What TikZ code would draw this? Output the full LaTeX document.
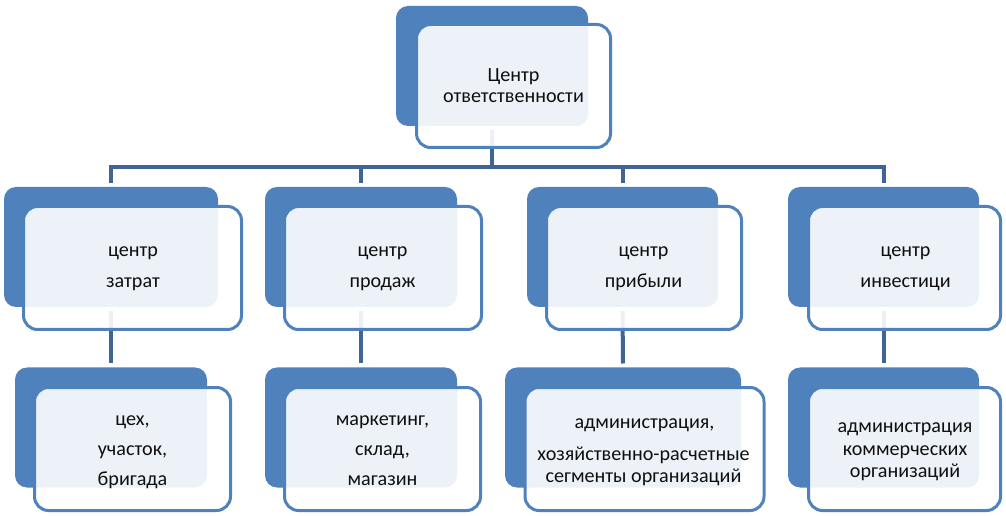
\documentclass[tikz,border=0pt]{standalone}
\usepackage{fontspec}
\setmainfont{Carlito}
\definecolor{accent}{RGB}{79,129,189}
\definecolor{connc}{RGB}{62,101,150}
\definecolor{txt}{RGB}{15,15,15}
\begin{document}
\begin{tikzpicture}[x=0.75pt,y=-0.75pt,
  darkbox/.style={rectangle,rounded corners=9pt,fill=accent,draw=none,inner sep=0pt,outer sep=0pt},
  frontbox/.style={rectangle,rounded corners=10.5pt,fill=white,fill opacity=0.9,draw=accent,line width=2.25pt,inner sep=0pt,outer sep=0pt},
  conn/.style={draw=connc,line width=3pt},
  lbl/.style={anchor=base,inner sep=0pt,text=txt,font=\fontsize{15.1pt}{17pt}\selectfont}]
\useasboundingbox (0,0) rectangle (1006,516);
% dark back boxes
\node[darkbox,minimum width=144pt,minimum height=90pt] (topD) at (492,66) {};
\node[darkbox,minimum width=160.5pt,minimum height=90pt] (aD) at (111,247) {};
\node[darkbox,minimum width=144pt,minimum height=90pt] (bD) at (361,247) {};
\node[darkbox,minimum width=143.25pt,minimum height=90pt] (cD) at (622.5,247) {};
\node[darkbox,minimum width=143.25pt,minimum height=90pt] (dD) at (883.5,247) {};
\node[darkbox,minimum width=144pt,minimum height=90pt] (a2D) at (111,427.5) {};
\node[darkbox,minimum width=144pt,minimum height=90pt] (b2D) at (361,427.5) {};
\node[darkbox,minimum width=177pt,minimum height=90pt] (c2D) at (623,427.5) {};
\node[darkbox,minimum width=143.25pt,minimum height=90pt] (d2D) at (883.5,427.5) {};
% connectors
\coordinate (bus) at (0,167);
\draw[conn] ([yshift=-3pt]topD.south) -- (topD.south |- bus);
\draw[conn] ([yshift=3pt]aD.north) -- (aD.north |- bus) -- (dD.north |- bus) -- ([yshift=3pt]dD.north);
\draw[conn] ([yshift=3pt]bD.north) -- (bD.north |- bus);
\draw[conn] ([yshift=3pt]cD.north) -- (cD.north |- bus);
\draw[conn] ([yshift=-3pt]aD.south) -- ([yshift=3pt]a2D.north);
\draw[conn] ([yshift=-3pt]bD.south) -- ([yshift=3pt]b2D.north);
\draw[conn] ([yshift=-3pt]cD.south) -- ([yshift=3pt]c2D.north);
\draw[conn] ([yshift=-3pt]dD.south) -- ([yshift=3pt]d2D.north);
% front boxes
\node[frontbox,minimum width=145.5pt,minimum height=92.25pt] (topF) at (513.5,86) {};
\node[frontbox,minimum width=163.5pt,minimum height=92.25pt] (aF) at (132.5,268) {};
\node[frontbox,minimum width=147.75pt,minimum height=92.25pt] (bF) at (383,268) {};
\node[frontbox,minimum width=146.25pt,minimum height=92.25pt] (cF) at (644,268) {};
\node[frontbox,minimum width=144pt,minimum height=92.25pt] (dF) at (904.5,268) {};
\node[frontbox,minimum width=147pt,minimum height=92.25pt] (a2F) at (132.5,449) {};
\node[frontbox,minimum width=147pt,minimum height=92.25pt] (b2F) at (382.5,449) {};
\node[frontbox,minimum width=179.25pt,minimum height=92.25pt] (c2F) at (644.5,449) {};
\node[frontbox,minimum width=144pt,minimum height=92.25pt] (d2F) at (904.5,449) {};
% texts
\node[lbl] (t1) at (513.5,82) {Центр};
\node[lbl] (t2) at (513.5,103) {ответственности};
\node[lbl] (a1) at (133,257) {центр};
\node[lbl] (a2) at (133,288) {затрат};
\node[lbl] (b1) at (382.5,257) {центр};
\node[lbl] (b2) at (382.5,288) {продаж};
\node[lbl] (c1) at (643.5,257) {центр};
\node[lbl] (c2) at (643.5,288) {прибыли};
\node[lbl] (d1) at (905.5,257) {центр};
\node[lbl] (d2) at (905.5,288) {инвестици};
\node[lbl] (aa1) at (132.5,425) {цех,};
\node[lbl] (aa2) at (132.5,455) {участок,};
\node[lbl] (aa3) at (132.5,485) {бригада};
\node[lbl] (bb1) at (382.5,425) {маркетинг,};
\node[lbl] (bb2) at (382.5,455) {склад,};
\node[lbl] (bb3) at (382.5,485) {магазин};
\node[lbl] (cc1) at (644.5,428) {администрация,};
\node[lbl] (cc2) at (643.5,460) {хозяйственно-расчетные};
\node[lbl] (cc3) at (643.5,482) {сегменты организаций};
\node[lbl] (dd1) at (905,432) {администрация};
\node[lbl] (dd2) at (905,455) {коммерческих};
\node[lbl] (dd3) at (905,477) {организаций};
\end{tikzpicture}
\end{document}
